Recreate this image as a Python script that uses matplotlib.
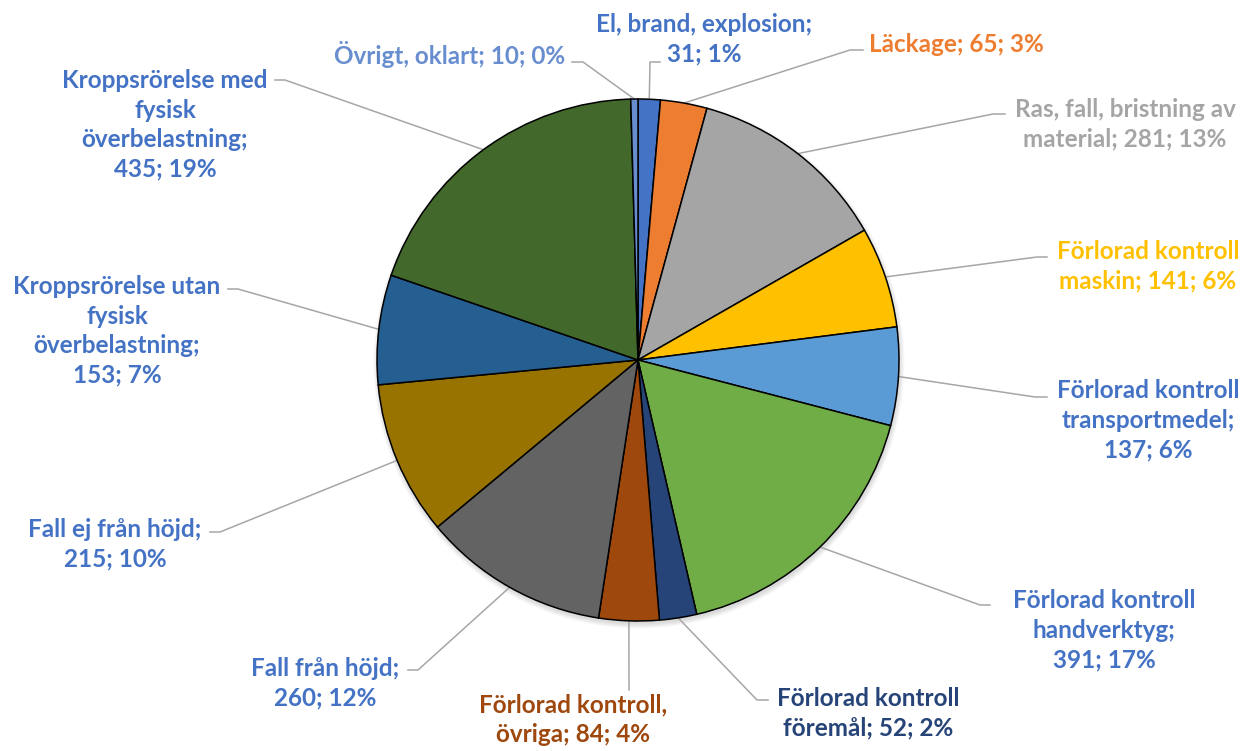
import numpy as np
import matplotlib.pyplot as plt
from matplotlib.patches import Circle

# data, clockwise from the top
categories = ["El, brand, explosion", "Läckage", "Ras, fall, bristning av\nmaterial",
              "Förlorad kontroll\nmaskin", "Förlorad kontroll\ntransportmedel",
              "Förlorad kontroll\nhandverktyg", "Förlorad kontroll\nföremål",
              "Förlorad kontroll,\növriga", "Fall från höjd", "Fall ej från höjd",
              "Kroppsrörelse utan\nfysisk\növerbelastning",
              "Kroppsrörelse med\nfysisk\növerbelastning", "Övrigt, oklart"]
values = [31, 65, 281, 141, 137, 391, 52, 84, 260, 215, 153, 435, 10]
percents = ["1%", "3%", "13%", "6%", "6%", "17%", "2%", "4%", "12%", "10%", "7%", "19%", "0%"]

slice_colors = ["#4472C4", "#ED7D31", "#A5A5A5", "#FFC000", "#5B9BD5", "#70AD47", "#264478",
                "#9E480E", "#636363", "#997300", "#255E91", "#43682B", "#698ED0"]
text_colors = ["#4472C4", "#ED7D31", "#A5A5A5", "#FFC000", "#4472C4", "#4472C4", "#264478",
               "#9E480E", "#4472C4", "#4472C4", "#4472C4", "#4472C4", "#698ED0"]

# layout in picture pixels (y down)
W, H = 1259, 751
cx, cy, R = 638, 360, 261
seps = [";\n", "; ", "; ", "; ", ";\n", ";\n", "; ", "; ", ";\n", ";\n", ";\n", ";\n", "; "]
text_xy = [(704, 39), (956, 45), (1125, 124), (1148, 266), (1148, 420), (1104, 630),
           (868, 713), (573, 720), (325, 683), (115, 544), (117, 331), (165, 125), (450, 55)]
elbow_xy = [(650, 62), (850, 50), (993, 114), (1037, 257), (1035, 397), (980, 605),
            (757, 700), (629, 690), (418, 670), (220, 532), (238, 289), (285, 80), (583, 62)]
stub_xy = [(660, 62), (863, 50), (1005, 114), (1047, 257), (1047, 397), (990, 605),
           (768, 700), (629, 690), (408, 670), (210, 532), (228, 289), (275, 80), (572, 62)]

plt.rcParams['font.family'] = ['Lato', 'DejaVu Sans']

fig = plt.figure(figsize=(W / 100, H / 100), dpi=100)
ax = fig.add_axes([0, 0, 1, 1])

# soft shadow under the pie
for k in range(6):
    ax.add_patch(Circle((cx + 1, H - cy - 3), R + k * 0.9, color='black',
                        alpha=0.025, lw=0, zorder=0))

wedges, _ = ax.pie(values, colors=slice_colors, startangle=90, counterclock=False,
                   center=(cx, H - cy), radius=R,
                   wedgeprops=dict(edgecolor='black', linewidth=1.1))

for i, w in enumerate(wedges):
    mid = np.deg2rad((w.theta1 + w.theta2) / 2)
    ex = cx + R * np.cos(mid)
    ey = (H - cy) + R * np.sin(mid)
    ax.plot([ex, elbow_xy[i][0], stub_xy[i][0]],
            [ey, H - elbow_xy[i][1], H - stub_xy[i][1]],
            color='#A6A6A6', lw=1.1, zorder=0.5)
    label = f"{categories[i]}{seps[i]}{values[i]}; {percents[i]}"
    ax.text(text_xy[i][0], H - text_xy[i][1], label, ha='center', va='center',
            multialignment='center', fontsize=17.5, fontweight='bold',
            color=text_colors[i], linespacing=1.34)

ax.set_xlim(0, W)
ax.set_ylim(0, H)
ax.set_aspect('equal')
ax.axis('off')

fig.savefig("out.png", dpi=100)
